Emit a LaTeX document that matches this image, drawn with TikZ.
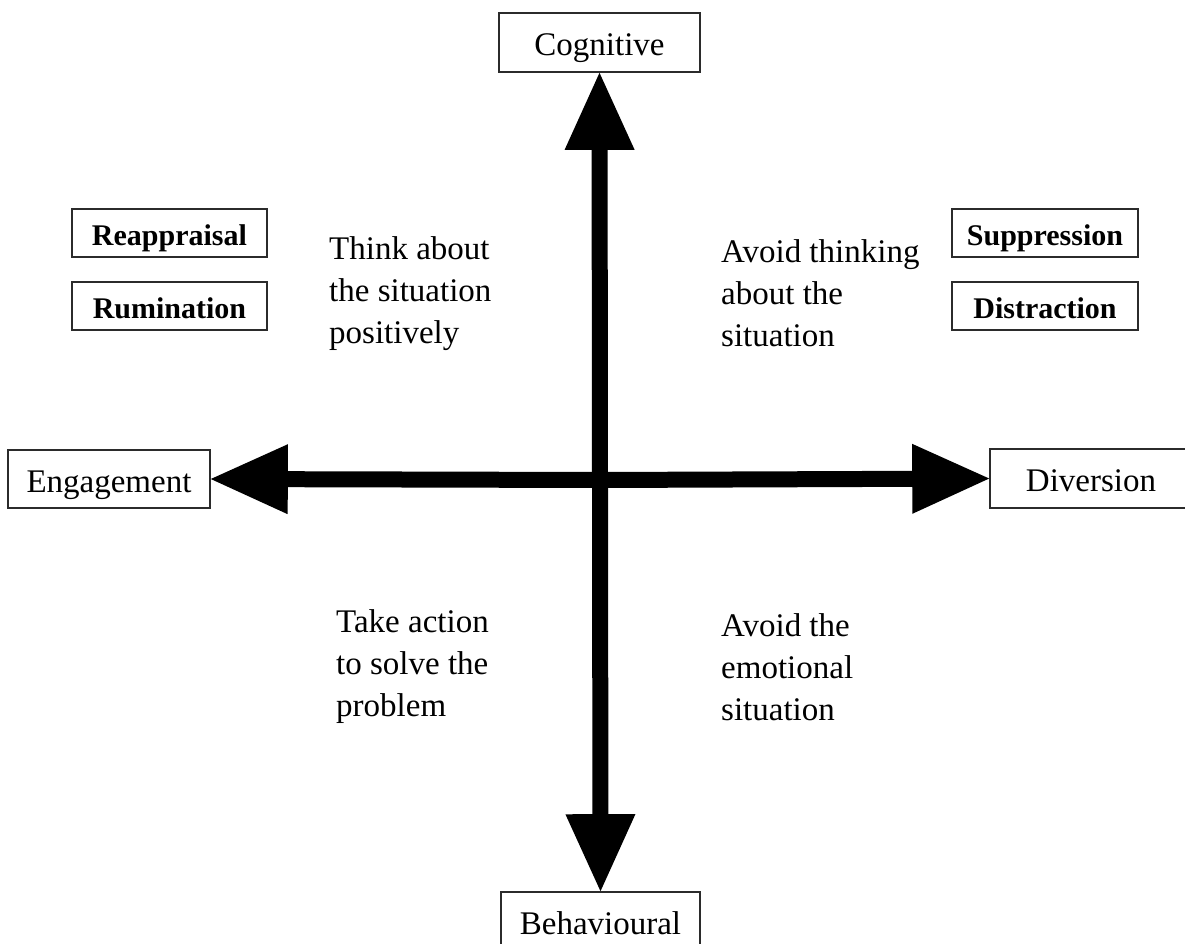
\documentclass[tikz,border=0pt]{standalone}
\usepackage{fontspec}
\setmainfont{Liberation Serif}
\usetikzlibrary{arrows.meta}
\definecolor{boxline}{HTML}{2B2B2B}
\begin{document}
\begin{tikzpicture}[x=1pt,y=-1pt,
  axisbox/.style={draw=boxline, line width=1.6pt, fill=white, inner sep=0pt,
    text height=26pt, text depth=0pt,
    font=\fontsize{33}{40}\selectfont},
  strategy/.style={draw=boxline, line width=1.6pt, fill=white, inner sep=0pt,
    minimum height=48pt, text height=24pt, text depth=0pt,
    font=\fontsize{30}{36}\selectfont\bfseries},
  quadrant/.style={align=left, inner sep=0pt, anchor=north west,
    font=\fontsize{33}{42}\selectfont},
  axisarrow/.style={line width=16pt, draw=black,
    -{Triangle[length=77pt, width=70pt, line width=0pt]}}]
  \useasboundingbox (0,0) rectangle (1185,943);
  \clip (0,0) rectangle (1185,943);

  % axis end boxes
  \node[axisbox, minimum width=201pt, minimum height=59pt] (cog) at (599.5,42.5) {Cognitive};
  \node[axisbox, minimum width=199pt, minimum height=59pt] (beh) at (600.5,921.5) {Behavioural};
  \node[axisbox, minimum width=202pt, minimum height=58pt] (eng) at (109,479) {Engagement};
  \node[axisbox, minimum width=202pt, minimum height=59pt] (div) at (1091,478.5) {Diversion};

  % centre of the cross
  \coordinate (c) at (600,480);

  % the four arrows
  \draw[axisarrow] (c) -- (cog.south);
  \draw[axisarrow] (c) -- (beh.north);
  \draw[axisarrow] (c) -- (eng.east);
  \draw[axisarrow] (c) -- (div.west);

  % strategy boxes
  \node[strategy, minimum width=195pt] (reap) at (169.5,233) {Reappraisal};
  \node[strategy, minimum width=195pt] (rum) at (169.5,306) {Rumination};
  \node[strategy, minimum width=186pt] (sup) at (1045,233) {Suppression};
  \node[strategy, minimum width=186pt] (dis) at (1045,306) {Distraction};

  % quadrant descriptions
  \node[quadrant] (q1) at (329,236) {Think about\\the situation\\positively};
  \node[quadrant] (q2) at (721,239) {Avoid thinking\\about the\\situation};
  \node[quadrant] (q3) at (336,609) {Take action\\to solve the\\problem};
  \node[quadrant] (q4) at (721,613) {Avoid the\\emotional\\situation};
\end{tikzpicture}
\end{document}
